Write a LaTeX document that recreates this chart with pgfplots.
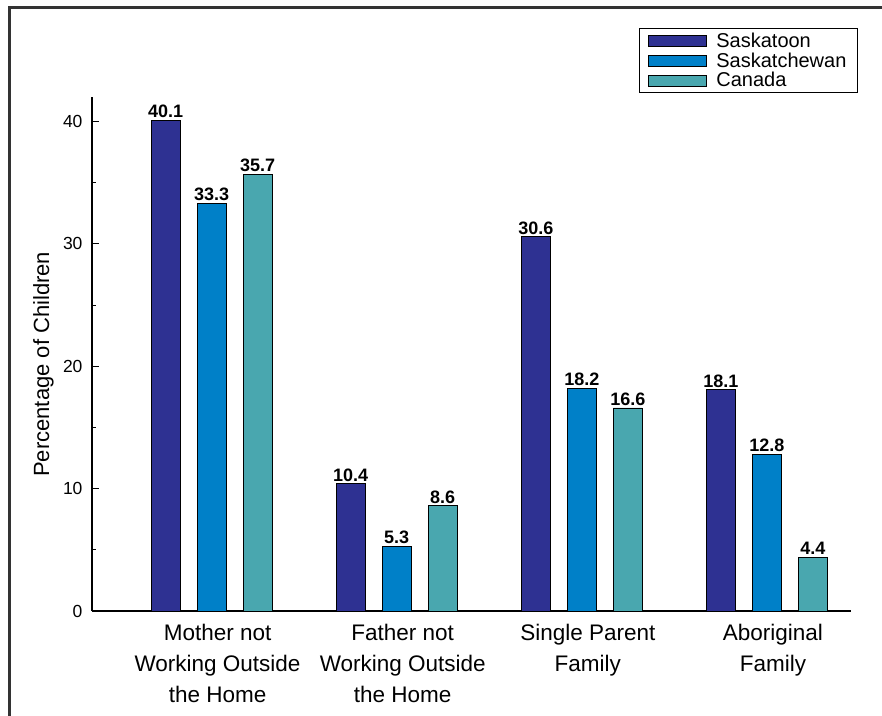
\documentclass[border=0pt]{standalone}
\usepackage{pgfplots}
\pgfplotsset{compat=1.18}
\usepackage{fontspec}
\setmainfont{Liberation Sans}
\definecolor{cSaskatoon}{HTML}{2E3192}
\definecolor{cSask}{HTML}{0080C8}
\definecolor{cCanada}{HTML}{49A7AF}
\definecolor{frame}{HTML}{333333}
\begin{document}
\begin{tikzpicture}
\useasboundingbox (-92pt,-104pt) rectangle (790pt,611pt);
\draw[frame, line width=3pt] (-82pt,-110pt) -- (-82pt,603pt) -- (800pt,603pt);
\begin{axis}[
  at={(0pt,0pt)}, anchor=south west,
  scale only axis, width=759pt, height=514pt,
  xmin=-0.646, xmax=3.454, ymin=0, ymax=42,
  axis x line=bottom, axis y line=left,
  axis line style={line width=1.6pt, -},
  /pgf/number format/assume math mode=true,
  ybar, bar width=29pt,
  xtick={0,1,2,3},
  xticklabels={{Mother not\\Working Outside\\the Home},{Father not\\Working Outside\\the Home},{Single Parent\\Family},{Aboriginal\\Family}},
  x tick label style={align=center, font=\fontsize{22.5}{31}\selectfont, xshift=6pt, yshift=-9pt, inner sep=4pt},
  x tick style={draw=none},
  extra x ticks={-0.249,0.751,1.751,2.751},
  extra x tick labels={},
  extra x tick style={major tick length=8pt, tick style={draw=black, line width=1pt}, tick align=inside},
  ytick={0,10,20,30,40},
  minor y tick num=1,
  y tick style={line width=1pt, black},
  tick align=inside,
  major tick length=7pt, minor tick length=4pt,
  y tick label style={font=\fontsize{17.5}{17.5}\selectfont, xshift=-6pt},
  ylabel={Percentage of Children},
  ylabel style={font=\fontsize{22}{22}\selectfont, at={(axis description cs:-0.064,0.48)}, anchor=center},
  nodes near coords={\pgfmathprintnumber[fixed,fixed zerofill,precision=1]{\pgfplotspointmeta}},
  every node near coord/.append style={font=\fontsize{18}{18}\selectfont\bfseries, inner sep=2pt, black},
  legend style={at={(axis description cs:1.009,1.134)}, anchor=north east, draw=black, line width=0.8pt, font=\fontsize{20}{20}\selectfont, row sep=0pt, inner xsep=9pt, inner ysep=2pt, cells={anchor=west}},
  legend cell align=left,
]
\addplot[fill=cSaskatoon, draw=black, line width=0.6pt, bar shift=-46pt,
  legend image code/.code={\draw[fill=cSaskatoon, draw=black, line width=0.8pt] (0pt,-5.5pt) rectangle (58pt,5.5pt); \path[draw=none, fill=none] (0pt,0pt) rectangle (66pt,0pt);}]
  coordinates {(0,40.1) (1,10.4) (2,30.6) (3,18.1)};
\addplot[fill=cSask, draw=black, line width=0.6pt, bar shift=0pt,
  legend image code/.code={\draw[fill=cSask, draw=black, line width=0.8pt] (0pt,-5.5pt) rectangle (58pt,5.5pt); \path[draw=none, fill=none] (0pt,0pt) rectangle (66pt,0pt);}]
  coordinates {(0,33.3) (1,5.3) (2,18.2) (3,12.8)};
\addplot[fill=cCanada, draw=black, line width=0.6pt, bar shift=46pt,
  legend image code/.code={\draw[fill=cCanada, draw=black, line width=0.8pt] (0pt,-5.5pt) rectangle (58pt,5.5pt); \path[draw=none, fill=none] (0pt,0pt) rectangle (66pt,0pt);}]
  coordinates {(0,35.7) (1,8.6) (2,16.6) (3,4.4)};
\legend{Saskatoon,Saskatchewan,Canada}
\end{axis}
\end{tikzpicture}
\end{document}
